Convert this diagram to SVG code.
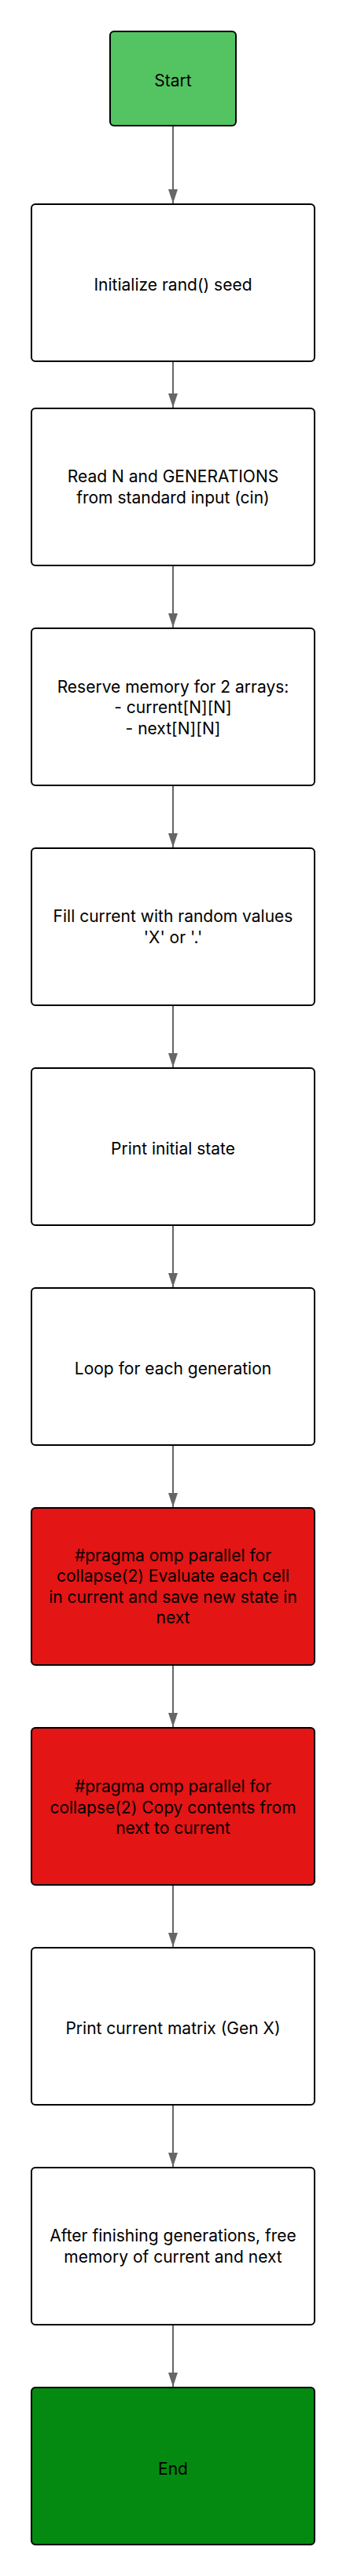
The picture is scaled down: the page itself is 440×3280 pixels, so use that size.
<svg xmlns="http://www.w3.org/2000/svg" width="440" height="3280" viewBox="0 0 440 3280">
<style>
.box{stroke:#000;stroke-width:2}
.w{fill:#fff}
.start{fill:#54C462}
.end{fill:#048A10}
.red{fill:#E41515}
text{font-family:Inter,"Noto Sans","Liberation Sans",sans-serif;font-size:21px;fill:#000;text-anchor:middle}
.edge{stroke:#666;stroke-width:2;fill:none}
</style>
<defs>
<marker id="arr" viewBox="0 0 18 12" refX="18" refY="6" markerWidth="18" markerHeight="12" markerUnits="userSpaceOnUse" orient="auto">
<path d="M0,0 L18,6 L0,12 Z" fill="#666"/>
</marker>
</defs>
<rect width="440" height="3280" fill="#fff"/>
<g id="connectors">
<line class="edge" x1="220" y1="160" x2="220" y2="259" marker-end="url(#arr)"/>
<line class="edge" x1="220" y1="460" x2="220" y2="519" marker-end="url(#arr)"/>
<line class="edge" x1="220" y1="720" x2="220" y2="799" marker-end="url(#arr)"/>
<line class="edge" x1="220" y1="1000" x2="220" y2="1079" marker-end="url(#arr)"/>
<line class="edge" x1="220" y1="1280" x2="220" y2="1359" marker-end="url(#arr)"/>
<line class="edge" x1="220" y1="1560" x2="220" y2="1639" marker-end="url(#arr)"/>
<line class="edge" x1="220" y1="1840" x2="220" y2="1919" marker-end="url(#arr)"/>
<line class="edge" x1="220" y1="2120" x2="220" y2="2199" marker-end="url(#arr)"/>
<line class="edge" x1="220" y1="2400" x2="220" y2="2479" marker-end="url(#arr)"/>
<line class="edge" x1="220" y1="2680" x2="220" y2="2759" marker-end="url(#arr)"/>
<line class="edge" x1="220" y1="2960" x2="220" y2="3039" marker-end="url(#arr)"/>
</g>
<g id="start">
<rect class="box start" x="140" y="40" width="160" height="120" rx="5"/>
<text x="220" y="110">Start</text>
</g>
<g id="init">
<rect class="box w" x="40" y="260" width="360" height="200" rx="5"/>
<text x="220" y="370">Initialize rand() seed</text>
</g>
<g id="read">
<rect class="box w" x="40" y="520" width="360" height="200" rx="5"/>
<text x="220" y="614">Read N and GENERATIONS</text>
<text x="220" y="640.5">from standard input (cin)</text>
</g>
<g id="reserve">
<rect class="box w" x="40" y="800" width="360" height="200" rx="5"/>
<text x="220" y="881.5">Reserve memory for 2 arrays:</text>
<text x="220" y="908">- current[N][N]</text>
<text x="220" y="934.5">- next[N][N]</text>
</g>
<g id="fill">
<rect class="box w" x="40" y="1080" width="360" height="200" rx="5"/>
<text x="220" y="1174">Fill current with random values</text>
<text x="220" y="1200.5">'X' or '.'</text>
</g>
<g id="printinit">
<rect class="box w" x="40" y="1360" width="360" height="200" rx="5"/>
<text x="220" y="1470">Print initial state</text>
</g>
<g id="loop">
<rect class="box w" x="40" y="1640" width="360" height="200" rx="5"/>
<text x="220" y="1750">Loop for each generation</text>
</g>
<g id="evaluate">
<rect class="box red" x="40" y="1920" width="360" height="200" rx="5"/>
<text x="220" y="1987.5">#pragma omp parallel for</text>
<text x="220" y="2014">collapse(2) Evaluate each cell</text>
<text x="220" y="2040.5">in current and save new state in</text>
<text x="220" y="2067">next</text>
</g>
<g id="copy">
<rect class="box red" x="40" y="2200" width="360" height="200" rx="5"/>
<text x="220" y="2282">#pragma omp parallel for</text>
<text x="220" y="2308.5">collapse(2) Copy contents from</text>
<text x="220" y="2335">next to current</text>
</g>
<g id="printcur">
<rect class="box w" x="40" y="2480" width="360" height="200" rx="5"/>
<text x="220" y="2590">Print current matrix (Gen X)</text>
</g>
<g id="free">
<rect class="box w" x="40" y="2760" width="360" height="200" rx="5"/>
<text x="220" y="2854">After finishing generations, free</text>
<text x="220" y="2880.5">memory of current and next</text>
</g>
<g id="end">
<rect class="box end" x="40" y="3040" width="360" height="200" rx="5"/>
<text x="220" y="3151">End</text>
</g>
</svg>
